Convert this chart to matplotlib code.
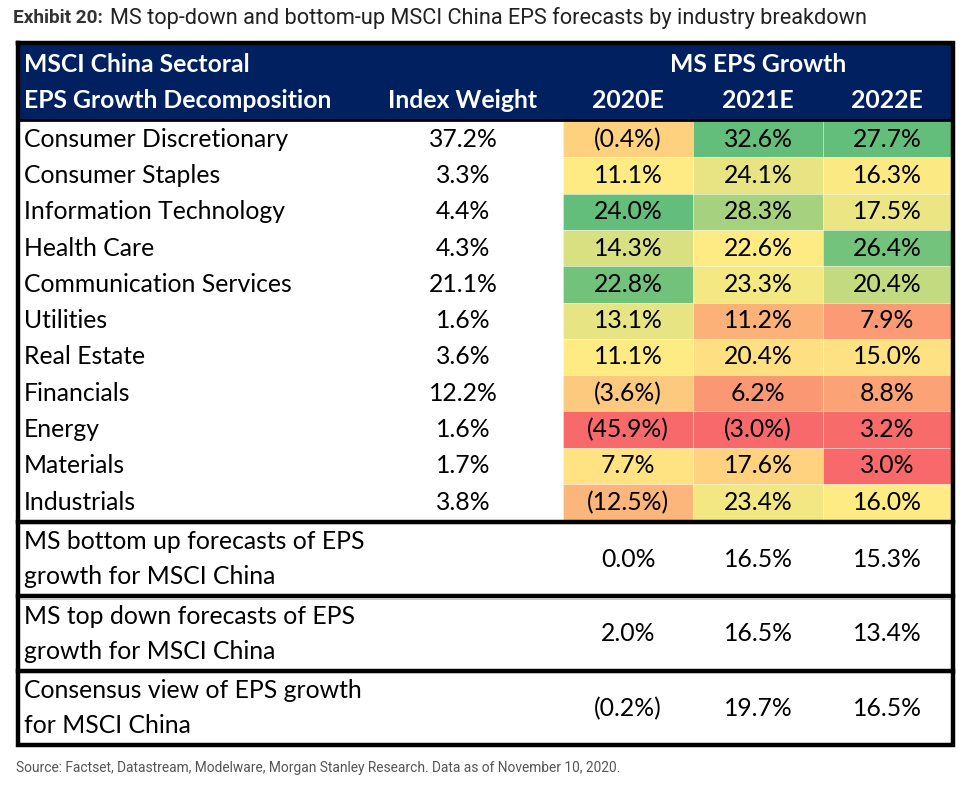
import matplotlib.pyplot as plt
from matplotlib.patches import Rectangle
import numpy as np

sectors = ["Consumer Discretionary", "Consumer Staples", "Information Technology",
           "Health Care", "Communication Services", "Utilities", "Real Estate",
           "Financials", "Energy", "Materials", "Industrials"]
index_weight = [37.2, 3.3, 4.4, 4.3, 21.1, 1.6, 3.6, 12.2, 1.6, 1.7, 3.8]
years = ["2020E", "2021E", "2022E"]
eps_2020 = [-0.4, 11.1, 24.0, 14.3, 22.8, 13.1, 11.1, -3.6, -45.9, 7.7, -12.5]
eps_2021 = [32.6, 24.1, 28.3, 22.6, 23.3, 11.2, 20.4, 6.2, -3.0, 17.6, 23.4]
eps_2022 = [27.7, 16.3, 17.5, 26.4, 20.4, 7.9, 15.0, 8.8, 3.2, 3.0, 16.0]

summary_labels = [["MS bottom up forecasts of EPS", "growth for MSCI China"],
                  ["MS top down forecasts of EPS", "growth for MSCI China"],
                  ["Consensus view of EPS growth", "for MSCI China"]]
summary_values = [[0.0, 16.5, 15.3],
                  [2.0, 16.5, 13.4],
                  [-0.2, 19.7, 16.5]]

NAVY = "#002060"
RED = np.array([248, 105, 107]) / 255
YEL = np.array([255, 235, 132]) / 255
GRN = np.array([99, 190, 123]) / 255
FONT = "Lato"


def fmt(v):
    return f"({abs(v):.1f}%)" if v < 0 else f"{v:.1f}%"


def scale_colors(vals):
    # excel style 3-colour scale: min red, median yellow, max green
    vals = np.asarray(vals, float)
    lo, mid, hi = vals.min(), np.median(vals), vals.max()
    out = []
    for v in vals:
        if v <= mid:
            t = (v - lo) / (mid - lo)
            out.append(RED + t * (YEL - RED))
        else:
            t = (v - mid) / (hi - mid)
            out.append(YEL + t * (GRN - YEL))
    return out


W, H = 978, 794
fig = plt.figure(figsize=(W / 100, H / 100), dpi=100)
ax = fig.add_axes([0, 0, 1, 1])
ax.set_xlim(0, W)
ax.set_ylim(H, 0)
ax.axis("off")

px = 0.72  # pixel -> point
left, right = 18, 953
head_top, head_bot = 43, 119
row_top, row_h = 121, 36.3
cell_x = [563, 693, 823, 951]
col_c = [(cell_x[i] + cell_x[i + 1]) / 2 for i in range(3)]
weight_c = 463
text_x = 24
fs = 24.8 * px

# title: bold lead-in followed by the plain text
lead = ax.text(13, 18, "Exhibit 20:", fontsize=19 * px, fontweight="bold", family="Roboto",
               color="#333333", va="center")
ax.annotate("MS top-down and bottom-up MSCI China EPS forecasts by industry breakdown",
            xy=(1, 0.5), xycoords=lead, xytext=(7, 0), textcoords="offset pixels",
            fontsize=21.8 * px, family="Roboto", color="#222222", va="center")

# header
ax.add_patch(Rectangle((left, head_top), right - left, head_bot - head_top, color=NAVY, zorder=1))
hk = dict(color="white", fontweight="bold", family=FONT, fontsize=fs, va="center")
ax.text(text_x, 64, "MSCI China Sectoral", **hk)
ax.text(text_x, 100, "EPS Growth Decomposition", **hk)
ax.text(weight_c, 100, "Index Weight", ha="center", **hk)
ax.text(col_c[1], 64, "MS EPS Growth", ha="center", **hk)
for c, y in zip(col_c, years):
    ax.text(c, 100, y, ha="center", **hk)

# sector rows
cols = [eps_2020, eps_2021, eps_2022]
colors = [scale_colors(c) for c in cols]
for i, name in enumerate(sectors):
    y0 = row_top + i * row_h
    yc = y0 + row_h / 2
    ax.text(text_x, yc, name, fontsize=fs, family=FONT, va="center")
    ax.text(weight_c, yc, f"{index_weight[i]:.1f}%", fontsize=fs, family=FONT,
            va="center", ha="center")
    for j in range(3):
        ax.add_patch(Rectangle((cell_x[j], y0), cell_x[j + 1] - cell_x[j], row_h,
                               facecolor=colors[j][i], edgecolor=(1, 1, 1, 0.35),
                               linewidth=0.6, zorder=1))
        ax.text(col_c[j], yc, fmt(cols[j][i]), fontsize=fs, family=FONT,
                va="center", ha="center", zorder=3)

# summary rows
sec_top = row_top + len(sectors) * row_h + 1.5
sec_h = 74.5
for k, (lab, vals) in enumerate(zip(summary_labels, summary_values)):
    y0 = sec_top + k * sec_h
    ax.text(text_x, y0 + 20, lab[0], fontsize=fs, family=FONT, va="center")
    ax.text(text_x, y0 + 55, lab[1], fontsize=fs, family=FONT, va="center")
    for j in range(3):
        ax.text(col_c[j], y0 + 37.5, fmt(vals[j]), fontsize=fs, family=FONT,
                va="center", ha="center")
    ax.plot([left, right], [y0, y0], color="black", lw=3.2, solid_capstyle="projecting", zorder=4)
    ax.plot([left + 3, right - 3], [y0 + 2.5, y0 + 2.5], color="#bbbbbb", lw=0.6, zorder=4)

bottom = sec_top + 3 * sec_h
# outer frame
ax.plot([left, right, right, left, left], [head_top, head_top, bottom, bottom, head_top],
        color="black", lw=3.2, solid_joinstyle="miter", zorder=5)
ax.plot([left, right], [head_bot + 1, head_bot + 1], color="black", lw=2, zorder=4)

ax.text(16, 768, "Source: Factset, Datastream, Modelware, Morgan Stanley Research. Data as of November 10, 2020.",
        fontsize=13.8 * px, family="Roboto", color="#555555", va="center")

fig.savefig("out.png", dpi=100)
